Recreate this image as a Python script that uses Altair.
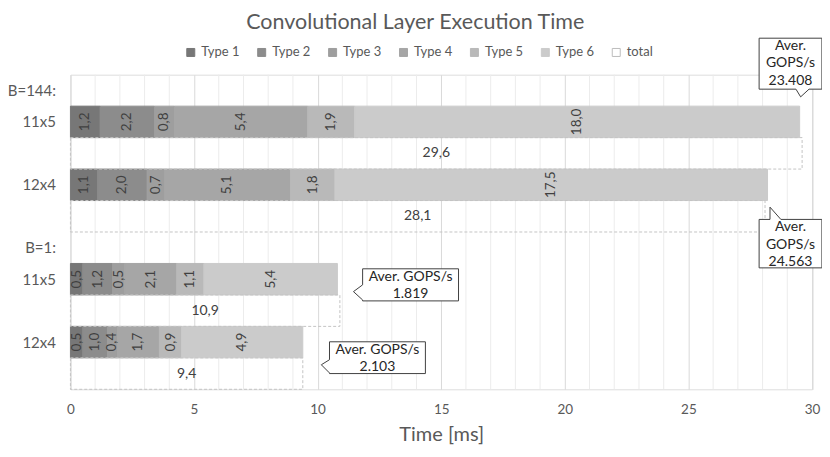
import altair as alt
import pandas as pd

# ---------------- data ----------------
row_labels = ["B=144:", "11x5", "", "12x4", "", "B=1:", "11x5", "", "12x4", ""]
bar_rows = [1, 3, 6, 8]
total_rows = [2, 4, 7, 9]
types = ["Type 1", "Type 2", "Type 3", "Type 4", "Type 5", "Type 6"]
type1 = [1.2, 1.1, 0.5, 0.5]
type2 = [2.2, 2.0, 1.2, 1.0]
type3 = [0.8, 0.7, 0.5, 0.4]
type4 = [5.4, 5.1, 2.1, 1.7]
type5 = [1.9, 1.8, 1.1, 0.9]
type6 = [18.0, 17.5, 5.4, 4.9]
totals = [29.6, 28.1, 10.9, 9.4]
gops = ["23.408", "24.563", "1.819", "2.103"]
major_ticks = [0, 5, 10, 15, 20, 25, 30]
minor_ticks = [v for v in range(0, 31) if v % 5 != 0]

# ---------------- styles ----------------
FONT = "Lato"
fills = ["#777777", "#8c8c8c", "#9e9e9e", "#a6a6a6", "#b9b9b9", "#cbcbcb", "#ffffff"]
fill_op = [1, 1, 1, 1, 1, 1, 0]
strokes = ["#777777", "#8c8c8c", "#9e9e9e", "#a6a6a6", "#b9b9b9", "#cbcbcb", "#bdbdbd"]
dashes = [[1, 0]] * 6 + [[2, 2]]
TOTAL_STROKE = "#c4c4c4"

# callout placement (annotation geometry, in axis units)
callout_boxes = [(27.86, 30.4, -1.66, -0.04), (27.86, 30.4, 4.10, 5.64),
                 (11.82, 15.70, 5.67, 6.69), (10.48, 14.36, 7.99, 9.0)]
callout_ptrs = [("bottom", [(29.88, -0.04), (29.54, 0.205), (29.35, -0.04)]),
                ("top", [(28.30, 4.10), (28.30, 3.71), (28.74, 4.10)]),
                ("left", [(11.82, 6.66), (11.45, 6.395), (11.82, 6.18)]),
                ("left", [(10.48, 8.98), (10.15, 8.72), (10.48, 8.56)])]
callout_texts = ["Aver.\nGOPS/s\n" + gops[0], "Aver.\nGOPS/s\n" + gops[1],
                 "Aver. GOPS/s\n" + gops[2], "Aver. GOPS/s\n" + gops[3]]

# ---------------- tables ----------------
series = [type1, type2, type3, type4, type5, type6]
recs = []
for i in range(4):
    for k, t in enumerate(types):
        recs.append({"row": bar_rows[i], "type": t, "value": series[k][i], "ord": k})
    recs.append({"row": total_rows[i], "type": "total", "value": totals[i], "ord": 6})
df = pd.DataFrame(recs)

poly = []
for c, (box, (edge, pts)) in enumerate(zip(callout_boxes, callout_ptrs)):
    x0, x1, y0, y1 = box
    seq = [(x0, y0)]
    if edge == "top":
        seq += pts
    seq += [(x1, y0), (x1, y1)]
    if edge == "bottom":
        seq += pts
    seq += [(x0, y1)]
    if edge == "left":
        seq += pts
    seq += [(x0, y0)]
    for j, (px, py) in enumerate(seq):
        poly.append({"cid": c, "i": j, "px": px, "py": py})
poly_df = pd.DataFrame(poly)

ctext_df = pd.DataFrame({
    "cx": [(b[0] + b[1]) / 2 for b in callout_boxes],
    "cy": [b[2] for b in callout_boxes],
    "txt": callout_texts,
})

grid_df = pd.DataFrame({"g": minor_ticks, "gy0": -0.5, "gy1": 9.5})

domain_types = types + ["total"]
xscale = alt.Scale(domain=[0, 30], nice=False, zero=False)
yscale = alt.Scale(domain=[-0.5, 9.5], nice=False, zero=False, reverse=True)

label_arr = "[" + ",".join("'" + s + "'" for s in row_labels) + "]"

xaxis = alt.Axis(
    values=major_ticks, gridColor="#d9d9d9", labelFlush=False,
    ticks=False, domain=False, title="Time [ms]",
    labelFontSize=13.5, labelColor="#595959", labelFont=FONT, labelPadding=13,
    titleFontSize=20, titleColor="#595959", titleFont=FONT, titleFontWeight="normal", titlePadding=9,
)
yaxis = alt.Axis(
    values=[0, 1, 3, 5, 6, 8],
    labelExpr=label_arr + "[datum.value]",
    grid=False, ticks=False, domain=False, title=None,
    labelFontSize=15, labelColor="#595959", labelFont=FONT, labelPadding=15,
)

base = alt.Chart(df).transform_stack(
    stack="value", groupby=["row"], as_=["x0", "x1"], sort=[alt.SortField("ord")]
).transform_calculate(
    y0="datum.row - 0.5", y1="datum.row + 0.5",
    xm="(datum.x0 + datum.x1) / 2",
    lbl="replace(format(datum.value, '.1f'), '.', ',')",
)

minor_grid = alt.Chart(grid_df).mark_rule(color="#ececec", strokeWidth=1).encode(
    x=alt.X("g:Q", scale=xscale, axis=xaxis),
    y=alt.Y("gy0:Q", scale=yscale, axis=yaxis),
    y2="gy1:Q",
)

bars = base.transform_filter("datum.type != 'total'").mark_rect(strokeWidth=1).encode(
    x=alt.X("x0:Q", scale=xscale, axis=xaxis),
    x2="x1:Q",
    y=alt.Y("y0:Q", scale=yscale, axis=yaxis),
    y2="y1:Q",
    fill=alt.Fill("type:N", scale=alt.Scale(domain=domain_types, range=fills), title=None,
                  legend=alt.Legend(orient="none", direction="horizontal", legendX=114, legendY=-29,
                                    symbolType="square", symbolSize=64, labelFontSize=13,
                                    labelColor="#595959", labelFont=FONT, columnPadding=15,
                                    labelOffset=4, symbolStrokeWidth=1)),
    fillOpacity=alt.FillOpacity("type:N", scale=alt.Scale(domain=domain_types, range=fill_op), title=None),
    stroke=alt.Stroke("type:N", scale=alt.Scale(domain=domain_types, range=strokes), title=None),
    strokeDash=alt.StrokeDash("type:N", scale=alt.Scale(domain=domain_types, range=dashes), title=None),
)

total_bars = base.transform_filter("datum.type == 'total'").mark_rect(
    fillOpacity=0, fill="#ffffff", stroke=TOTAL_STROKE, strokeDash=[3, 2], strokeWidth=1
).encode(
    x=alt.X("x0:Q", scale=xscale), x2="x1:Q",
    y=alt.Y("y0:Q", scale=yscale), y2="y1:Q",
)

seg_labels = base.transform_filter("datum.type != 'total'").mark_text(
    angle=270, fontSize=13.5, color="#404040", font=FONT, baseline="middle", align="center"
).encode(x=alt.X("xm:Q", scale=xscale), y=alt.Y("row:Q", scale=yscale), text="lbl:N")

tot_labels = base.transform_filter("datum.type == 'total'").mark_text(
    fontSize=14, color="#404040", font=FONT, baseline="middle", align="center"
).encode(x=alt.X("xm:Q", scale=xscale), y=alt.Y("row:Q", scale=yscale), text="lbl:N")

callouts = alt.Chart(poly_df).mark_line(fill="white", stroke="#404040", strokeWidth=1).encode(
    x=alt.X("px:Q", scale=xscale), y=alt.Y("py:Q", scale=yscale),
    detail="cid:N", order="i:Q",
)

callout_txt = alt.Chart(ctext_df).mark_text(
    lineBreak="\n", fontSize=14, lineHeight=17.3, color="#262626", font=FONT,
    align="center", baseline="top", dy=1
).encode(x=alt.X("cx:Q", scale=xscale), y=alt.Y("cy:Q", scale=yscale), text="txt:N")

chart = alt.layer(minor_grid, bars, total_bars, seg_labels, tot_labels, callouts, callout_txt).properties(
    width=742.5, height=315,
    title=alt.TitleParams("Convolutional Layer Execution Time", fontSize=21.5, color="#595959",
                          font=FONT, fontWeight="normal", anchor="middle", dx=-26, offset=3),
    autosize=alt.AutoSizeParams(type="none"),
    padding={"left": 62.5, "top": 66.5, "right": 10, "bottom": 59.5},
).configure_view(stroke=None).configure(background="white")

chart.save("out.html", embed_options={"renderer": "svg", "actions": False})
